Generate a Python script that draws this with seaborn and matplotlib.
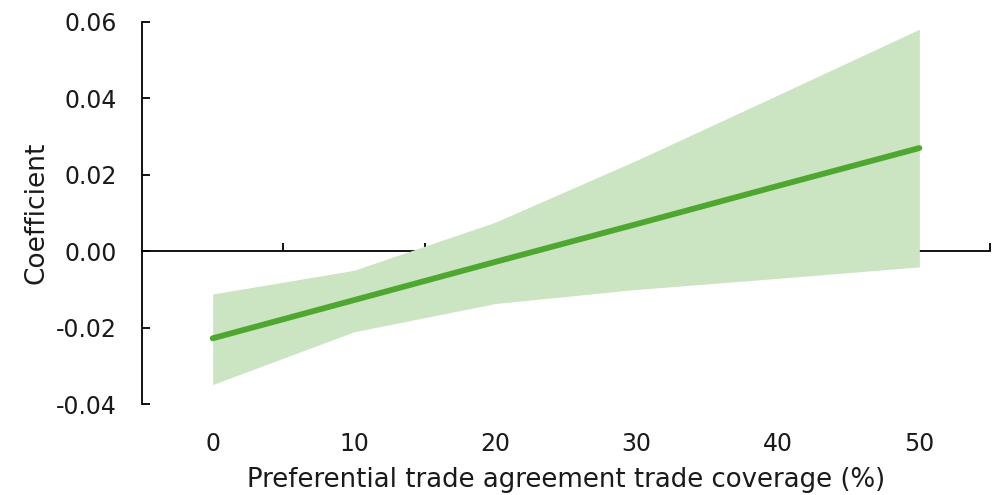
import matplotlib
matplotlib.use("Agg")
import matplotlib.pyplot as plt
import seaborn as sns
import pandas as pd

# Marginal effect of PTA trade coverage, with confidence band
coverage = [0, 10, 20, 30, 40, 50]
coefficient = [-0.0228, -0.0128, -0.0028, 0.0071, 0.0171, 0.0270]
ci_upper = [-0.0112, -0.0050, 0.0076, 0.0238, 0.0409, 0.0581]
ci_lower = [-0.0349, -0.0211, -0.0137, -0.0100, -0.0071, -0.0041]

x_ticks = [0, 10, 20, 30, 40, 50]
y_ticks = [-0.04, -0.02, 0.00, 0.02, 0.04, 0.06]

df = pd.DataFrame({"coverage": coverage, "coefficient": coefficient,
                   "lower": ci_lower, "upper": ci_upper})

sns.set_theme(style="white")
plt.rcParams["font.family"] = ["DejaVu Sans"]

line_color = "#4EA72E"
band_color = "#CBE4C2"
text_color = "#1a1a1a"

fig = plt.figure(figsize=(9.93, 4.95), dpi=100)
ax = fig.add_axes([0.143, 0.1838, 0.854, 0.7718])

ax.fill_between(df["coverage"], df["lower"], df["upper"],
                color=band_color, linewidth=0, zorder=1)
sns.lineplot(data=df, x="coverage", y="coefficient", ax=ax,
             color=line_color, linewidth=4.2, zorder=3,
             solid_capstyle="round")

ax.set_xlim(-5, 55)
ax.set_ylim(-0.04, 0.06)

# Left axis with inward ticks
ax.set_yticks(y_ticks)
ax.set_yticklabels([f"{v:.2f}" for v in y_ticks])
ax.tick_params(axis="y", direction="in", length=6, width=1.3,
               color="black", pad=18, labelsize=17, labelcolor=text_color, left=True)
ax.spines["left"].set_color("black")
ax.spines["left"].set_linewidth(1.3)
for s in ("top", "right", "bottom"):
    ax.spines[s].set_visible(False)

# Category labels along the bottom, no tick marks
ax.set_xticks(x_ticks)
ax.tick_params(axis="x", length=0, pad=20, labelsize=17, labelcolor=text_color)

# Zero reference axis with tick marks between categories
zero_axis = ax.secondary_xaxis(0.4)
zero_axis.set_xticks([5, 15, 25, 35, 45, 55])
zero_axis.tick_params(direction="in", length=6, width=1.3, color="black",
                      labelbottom=False)
zero_axis.spines["bottom"].set_color("black")
zero_axis.spines["bottom"].set_linewidth(1.3)

ax.set_xlabel("Preferential trade agreement trade coverage (%)",
              fontsize=18.7, color=text_color, labelpad=8)
ax.set_ylabel("Coefficient", fontsize=19, color=text_color, labelpad=5)

fig.savefig("out.png", dpi=100, facecolor="white")
